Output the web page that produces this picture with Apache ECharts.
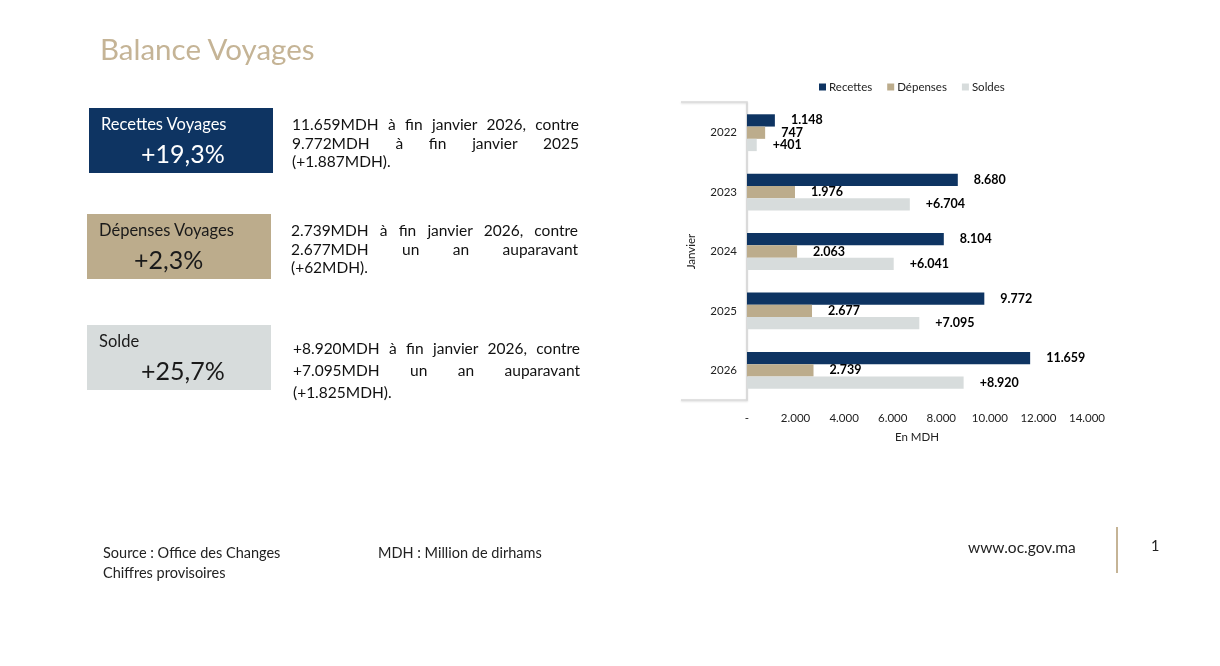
<!DOCTYPE html>
<html>
<head>
<meta charset="utf-8">
<script src="https://cdn.jsdelivr.net/npm/echarts@6/dist/echarts.min.js"></script>
<style>
  body { margin: 0; background: #fff; font-family: Lato, "Open Sans", sans-serif; }
  #page { position: relative; width: 1220px; height: 666px; overflow: hidden; }
  #chart { position: absolute; left: 0; top: 0; width: 1220px; height: 666px; }
  .abs { position: absolute; }
  .title { left: 100px; top: 31px; font-size: 29.5px; color: #c5b496; }
  .box { width: 184px; height: 65px; }
  .box .lbl { position: absolute; left: 12px; top: 6px; font-size: 16.5px; }
  .box .pct { position: absolute; top: 30px; font-size: 25px; }
  .txt { width: 287px; font-size: 15.5px; line-height: 18.5px; color: #111; }
  .txt div { text-align: justify; text-align-last: justify; white-space: nowrap; }
  .txt div.last { text-align-last: left; }
  .foot { font-size: 14.5px; color: #222; }
</style>
</head>
<body>
<div id="page">
  <div id="chart"></div>
  <div class="abs title">Balance Voyages</div>

  <div class="abs box" style="left:89px;top:108px;background:#0e3462;color:#fff;">
    <div class="lbl">Recettes Voyages</div>
    <div class="pct" style="left:52px;">+19,3%</div>
  </div>
  <div class="abs txt" style="left:292px;top:115px;">
    <div>11.659MDH à fin janvier 2026, contre</div>
    <div>9.772MDH à fin janvier 2025</div>
    <div class="last">(+1.887MDH).</div>
  </div>

  <div class="abs box" style="left:87px;top:214px;background:#bcac8c;color:#1a1a1a;">
    <div class="lbl">Dépenses Voyages</div>
    <div class="pct" style="left:47px;">+2,3%</div>
  </div>
  <div class="abs txt" style="left:291px;top:221px;">
    <div>2.739MDH à fin janvier 2026, contre</div>
    <div>2.677MDH un an auparavant</div>
    <div class="last">(+62MDH).</div>
  </div>

  <div class="abs box" style="left:87px;top:325px;background:#d7dcdc;color:#1a1a1a;">
    <div class="lbl">Solde</div>
    <div class="pct" style="left:54px;">+25,7%</div>
  </div>
  <div class="abs txt" style="left:293px;top:337px;line-height:22px;">
    <div>+8.920MDH à fin janvier 2026, contre</div>
    <div>+7.095MDH un an auparavant</div>
    <div class="last">(+1.825MDH).</div>
  </div>

  <div class="abs foot" style="left:103px;top:544px;">Source : Office des Changes</div>
  <div class="abs foot" style="left:103px;top:564px;">Chiffres provisoires</div>
  <div class="abs foot" style="left:378px;top:544px;">MDH : Million de dirhams</div>
  <div class="abs foot" style="left:968px;top:538px;font-size:15.5px;">www.oc.gov.ma</div>
  <div class="abs" style="left:1116px;top:527px;width:2px;height:46px;background:#c5b496;"></div>
  <div class="abs foot" style="left:1151px;top:537px;">1</div>
</div>
<script>
var years = ['2022', '2023', '2024', '2025', '2026'];
var recettes = [1148, 8680, 8104, 9772, 11659];
var depenses = [747, 1976, 2063, 2677, 2739];
var soldes = [401, 6704, 6041, 7095, 8920];
var xTicks = [0, 2000, 4000, 6000, 8000, 10000, 12000, 14000];

function fmt(v) {
  if (v === 0) return '-';
  return String(v).replace(/\B(?=(\d{3})+(?!\d))/g, '.');
}

function barSeries(name, data, color, sign) {
  return {
    name: name,
    type: 'bar',
    data: data,
    barGap: '0%',
    barCategoryGap: '38%',
    itemStyle: { color: color },
    label: {
      show: true,
      position: 'right',
      distance: 16,
      color: '#000',
      fontWeight: 'bold',
      fontSize: 12.5,
      fontFamily: 'Lato, sans-serif',
      formatter: function (p) { return sign + fmt(p.value); }
    }
  };
}

var chart = echarts.init(document.getElementById('chart'));
chart.setOption({
  animation: false,
  textStyle: { fontFamily: 'Lato, sans-serif' },
  legend: {
    left: 814,
    top: 76,
    itemWidth: 7,
    itemHeight: 7,
    itemGap: 15,
    icon: 'rect',
    textStyle: { fontSize: 11.5, color: '#222', padding: [0, 0, 0, -2] },
    data: ['Recettes', 'Dépenses', 'Soldes']
  },
  grid: { left: 747, right: 133, top: 103, bottom: 266 },
  xAxis: {
    type: 'value',
    min: xTicks[0],
    max: xTicks[xTicks.length - 1],
    interval: 2000,
    name: 'En MDH',
    nameLocation: 'middle',
    nameGap: 31,
    nameTextStyle: { fontSize: 11.5, color: '#222' },
    axisLine: { show: false },
    axisTick: { show: false },
    splitLine: { show: false },
    axisLabel: { fontSize: 11.5, color: '#222', margin: 12, formatter: fmt }
  },
  yAxis: {
    type: 'category',
    data: years,
    inverse: true,
    name: 'Janvier',
    nameLocation: 'middle',
    nameGap: 50,
    nameTextStyle: { fontSize: 11.5, color: '#222' },
    axisLine: { show: true, lineStyle: { color: '#d9d9d9', width: 1.5 } },
    axisTick: { show: false },
    axisLabel: { fontSize: 11.5, color: '#222', margin: 10 }
  },
  graphic: [{
    type: 'polyline',
    shape: { points: [[681, 102], [747, 102], [747, 400], [681, 400]] },
    style: { stroke: '#d9d9d9', lineWidth: 1.5, fill: null, shadowBlur: 2, shadowColor: 'rgba(0,0,0,0.15)', shadowOffsetY: 1 },
    z: 0
  }],
  series: [
    barSeries('Recettes', recettes, '#0e3462', ''),
    barSeries('Dépenses', depenses, '#bcac8c', ''),
    barSeries('Soldes', soldes, '#d7dcdc', '+')
  ]
});
</script>
</body>
</html>
